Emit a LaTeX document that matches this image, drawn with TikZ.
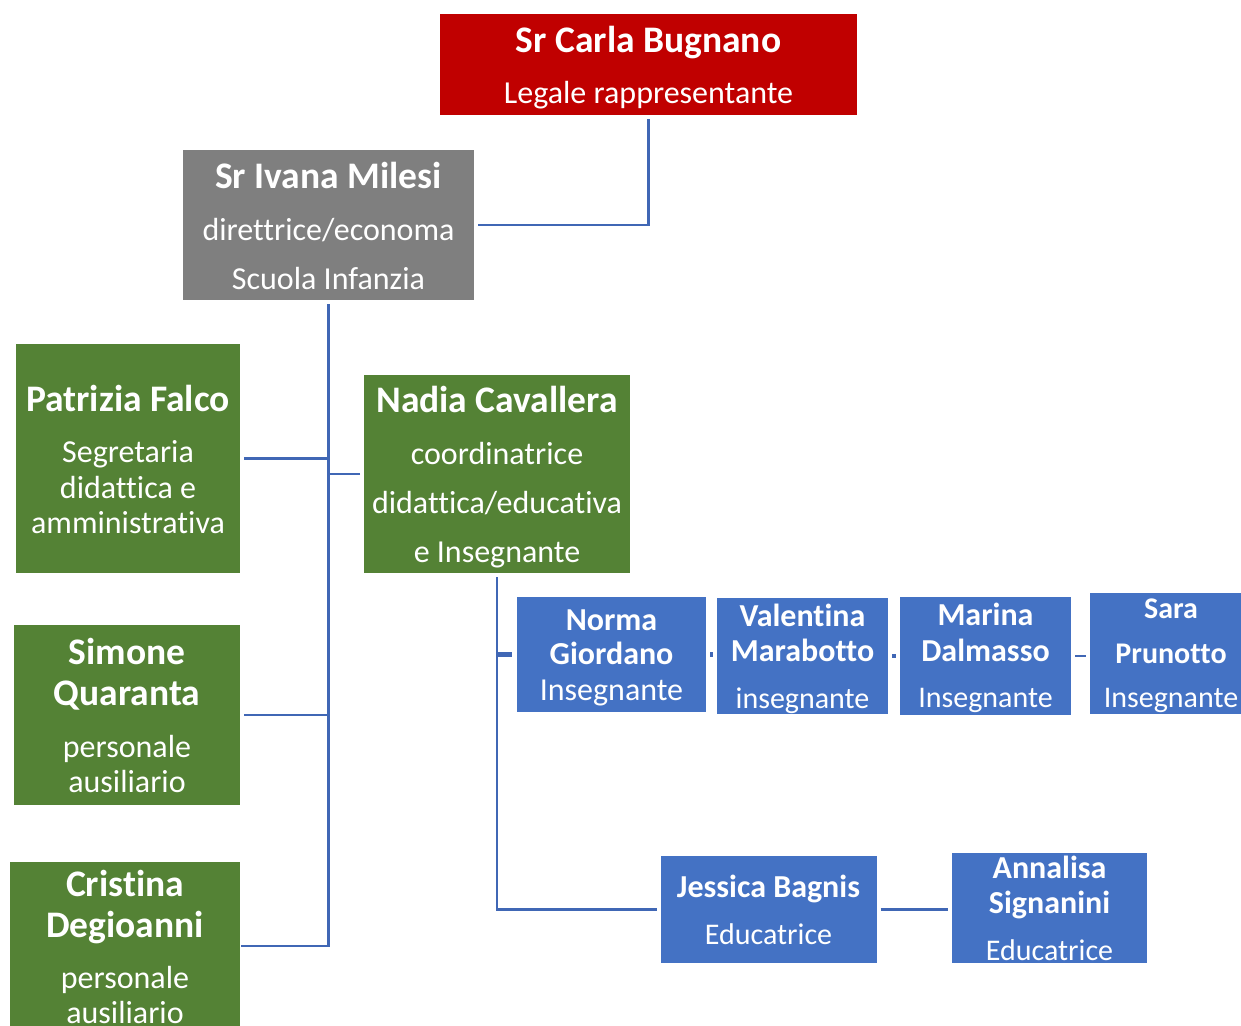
\documentclass[tikz,border=0pt]{standalone}
\usepackage{fontspec}
\setmainfont{Carlito}[Ligatures=NoCommon]
\definecolor{rossoC}{HTML}{C00000}
\definecolor{grigioC}{HTML}{7F7F7F}
\definecolor{verdeC}{HTML}{548235}
\definecolor{bluC}{HTML}{4472C4}
\definecolor{lineaC}{HTML}{4067B5}
\begin{document}
\begin{tikzpicture}[x=1pt,y=-1pt,
  box/.style={draw=white,line width=1pt,inner sep=0pt,minimum width=#1},
  nm/.style={text=white,font=\fontsize{37.5}{42}\selectfont\bfseries,inner sep=0pt,anchor=center,text height=26.5pt,text depth=0pt},
  rl/.style={text=white,font=\fontsize{32}{36}\selectfont,inner sep=0pt,anchor=center,text height=22.5pt,text depth=0pt},
  bnm/.style={text=white,font=\fontsize{32}{36}\selectfont\bfseries,inner sep=0pt,anchor=center,text height=22.5pt,text depth=0pt},
  brl/.style={text=white,font=\fontsize{30}{34}\selectfont,inner sep=0pt,anchor=center,text height=21pt,text depth=0pt},
  snm/.style={text=white,font=\fontsize{30}{34}\selectfont\bfseries,inner sep=0pt,anchor=center,text height=21pt,text depth=0pt},
  conn/.style={draw=lineaC,line width=2.6pt},
  tick/.style={draw=lineaC,line width=4.5pt}]
\useasboundingbox (0,0) rectangle (1241,1025);
\begin{scope}
\clip (0,0) rectangle (1241,1025);
% boxes
\node[box=418pt,minimum height=102pt,fill=rossoC] (red) at (648.5,64.5) {};
\node[box=292pt,minimum height=151pt,fill=grigioC] (gray) at (328.5,225) {};
\node[box=225pt,minimum height=230pt,fill=verdeC] (patrizia) at (128,458.5) {};
\node[box=267pt,minimum height=199pt,fill=verdeC] (nadia) at (497,474) {};
\node[box=227pt,minimum height=181pt,fill=verdeC] (simone) at (127,715) {};
\node[box=231pt,minimum height=170pt,fill=verdeC] (cristina) at (125,946) {};
\node[box=190pt,minimum height=116pt,fill=bluC] (norma) at (611.5,654.5) {};
\node[box=172pt,minimum height=117pt,fill=bluC] (valentina) at (802.5,656) {};
\node[box=172pt,minimum height=119pt,fill=bluC] (marina) at (985.5,656) {};
\node[box=154pt,minimum height=122pt,fill=bluC] (sara) at (1166,653) {};
\node[box=217pt,minimum height=108pt,fill=bluC] (jessica) at (768.5,909.5) {};
\node[box=196pt,minimum height=111pt,fill=bluC] (annalisa) at (1049.5,908) {};
\end{scope}
% texts
\node[nm] (t1) at (648.5,39) {Sr Carla Bugnano};
\node[rl] (t2) at (648.5,92) {Legale rappresentante};
\node[nm] (t3) at (328.5,175) {Sr Ivana Milesi};
\node[rl] (t4) at (328.5,229) {direttrice/economa};
\node[rl] (t5) at (328.5,278) {Scuola Infanzia};
\node[nm] (t6) at (128,398) {Patrizia Falco};
\node[rl] (t7) at (128,451) {Segretaria};
\node[rl] (t8) at (128,487) {didattica e};
\node[rl] (t9) at (128,522) {amministrativa};
\node[nm] (t10) at (497,399) {Nadia Cavallera};
\node[rl] (t11) at (497,453) {coordinatrice};
\node[rl] (t12) at (497,502) {didattica/educativa};
\node[rl] (t13) at (497,551) {e Insegnante};
\node[nm] (t14) at (127,651) {Simone};
\node[nm] (t15) at (127,692) {Quaranta};
\node[rl] (t16) at (127,746) {personale};
\node[rl] (t17) at (127,781) {ausiliario};
\node[nm] (t18) at (125,883) {Cristina};
\node[nm] (t19) at (125,924) {Degioanni};
\node[rl] (t20) at (125,977) {personale};
\node[rl] (t21) at (125,1012) {ausiliario};
\node[bnm] (t22) at (611.5,619) {Norma};
\node[bnm] (t23) at (611.5,653) {Giordano};
\node[rl] (t24) at (611.5,689) {Insegnante};
\node[bnm] (t25) at (802.5,615) {Valentina};
\node[bnm] (t26) at (802.5,650) {Marabotto};
\node[brl] (t27) at (802.5,698) {insegnante};
\node[bnm] (t28) at (985.5,614) {Marina};
\node[bnm] (t29) at (985.5,650) {Dalmasso};
\node[brl] (t30) at (985.5,697) {Insegnante};
\node[snm] (t31) at (1171,608) {Sara};
\node[snm] (t32) at (1171,653) {Prunotto};
\node[brl] (t33) at (1171,697) {Insegnante};
\node[bnm] (t34) at (768.5,886) {Jessica Bagnis};
\node[brl] (t35) at (768.5,934) {Educatrice};
\node[bnm] (t36) at (1049.5,867) {Annalisa};
\node[bnm] (t37) at (1049.5,902) {Signanini};
\node[brl] (t38) at (1049.5,950) {Educatrice};
% connectors
\draw[conn,shorten <=3pt,shorten >=3pt] (red.south) |- (gray.east);
\draw[conn,shorten <=3pt] (gray.south) |- (cristina.east);
\draw[conn,shorten <=3pt] (patrizia.east) -- (patrizia.east -| gray.south);
\draw[conn,shorten <=3pt] (simone.east) -- (simone.east -| gray.south);
\draw[conn,shorten <=3pt] (nadia.west) -- (nadia.west -| gray.south);
\draw[conn,shorten <=3pt,shorten >=3pt] (nadia.south) |- (jessica.west);
\draw[tick,shorten >=4pt] (nadia.south |- norma.west) -- (norma.west);
\draw[tick,shorten <=3pt,shorten >=3pt] (norma.east) -- (norma.east -| valentina.west);
\draw[tick,shorten <=3pt,shorten >=3pt] (valentina.east) -- (valentina.east -| marina.west);
\draw[conn,shorten <=3pt,shorten >=3pt] (marina.east) -- (marina.east -| sara.west);
\draw[conn,shorten <=3pt,shorten >=3pt] (jessica.east) -- (jessica.east -| annalisa.west);
\end{tikzpicture}
\end{document}
